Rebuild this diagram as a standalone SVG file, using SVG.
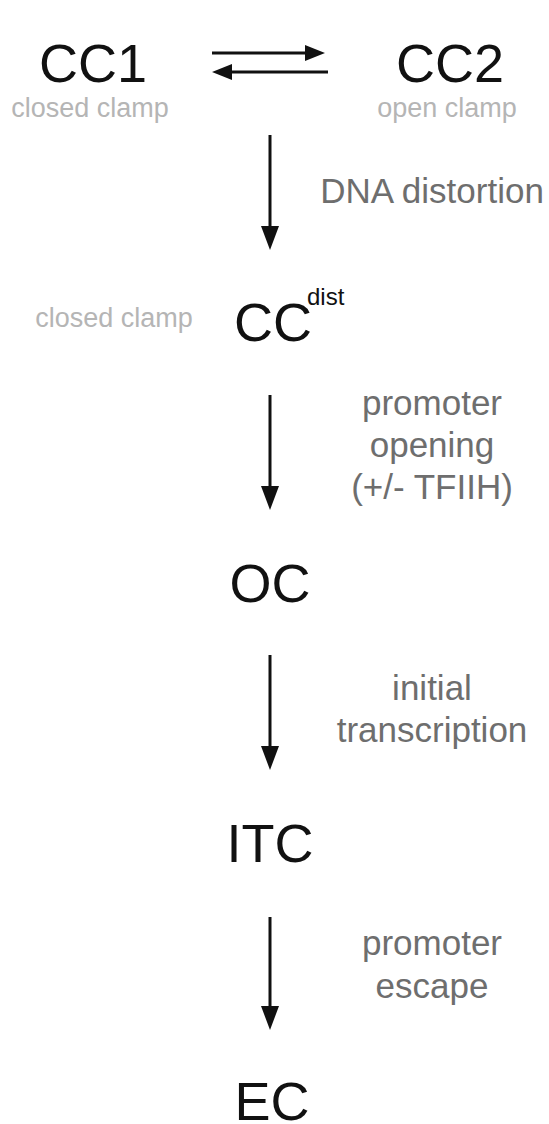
<svg xmlns="http://www.w3.org/2000/svg" width="549" height="1124" viewBox="0 0 549 1124">
  <style>
    .node { font-family: "Liberation Sans", Arial, sans-serif; font-size: 54px; fill: #111; }
    .sub { font-family: "Liberation Sans", Arial, sans-serif; font-size: 27px; fill: #b5b5b5; text-anchor: middle; }
    .lbl { font-family: "Liberation Sans", Arial, sans-serif; font-size: 35px; fill: #6e6e6e; text-anchor: middle; }
    .arr { stroke: #111; stroke-width: 3; fill: none; }
  </style>
  <defs>
    <marker id="head" viewBox="0 0 24 18" refX="18" refY="9" markerWidth="24" markerHeight="18" markerUnits="userSpaceOnUse" orient="auto">
      <path d="M0,0 L24,9 L0,18 z" fill="#111"/>
    </marker>
    <marker id="headS" viewBox="0 0 20 16" refX="15" refY="8" markerWidth="20" markerHeight="16" markerUnits="userSpaceOnUse" orient="auto">
      <path d="M0,0 L20,8 L0,16 z" fill="#111"/>
    </marker>
  </defs>
  <rect width="549" height="1124" fill="#fff"/>

  <g id="connectors">
    <line class="arr" x1="212" y1="53" x2="320" y2="53" marker-end="url(#headS)"/>
    <line class="arr" x1="328" y1="72" x2="217" y2="72" marker-end="url(#headS)"/>
    <line class="arr" x1="270" y1="135" x2="270" y2="244" marker-end="url(#head)"/>
    <line class="arr" x1="270" y1="395" x2="270" y2="504" marker-end="url(#head)"/>
    <line class="arr" x1="270" y1="655" x2="270" y2="764" marker-end="url(#head)"/>
    <line class="arr" x1="270" y1="917" x2="270" y2="1024" marker-end="url(#head)"/>
  </g>

  <g id="labels">
    <text class="lbl" x="432" y="203">DNA distortion</text>
    <text class="lbl" x="432" y="415">promoter</text>
    <text class="lbl" x="432" y="457">opening</text>
    <text class="lbl" x="432" y="499">(+/- TFIIH)</text>
    <text class="lbl" x="432" y="700">initial</text>
    <text class="lbl" x="432" y="742">transcription</text>
    <text class="lbl" x="432" y="955">promoter</text>
    <text class="lbl" x="432" y="998">escape</text>
  </g>

  <g id="CC1">
    <text class="node" x="93" y="82" text-anchor="middle">CC1</text>
    <text class="sub" x="90" y="117">closed clamp</text>
  </g>
  <g id="CC2">
    <text class="node" x="450" y="82" text-anchor="middle">CC2</text>
    <text class="sub" x="447" y="117">open clamp</text>
  </g>
  <g id="CCdist">
    <text class="node" x="234" y="341">CC<tspan dx="-5" dy="-36" font-size="24">dist</tspan></text>
    <text class="sub" x="114" y="327">closed clamp</text>
  </g>
  <g id="OC">
    <text class="node" x="270" y="602" text-anchor="middle">OC</text>
  </g>
  <g id="ITC">
    <text class="node" x="270" y="862" text-anchor="middle">ITC</text>
  </g>
  <g id="EC">
    <text class="node" x="272" y="1120" text-anchor="middle">EC</text>
  </g>
</svg>
